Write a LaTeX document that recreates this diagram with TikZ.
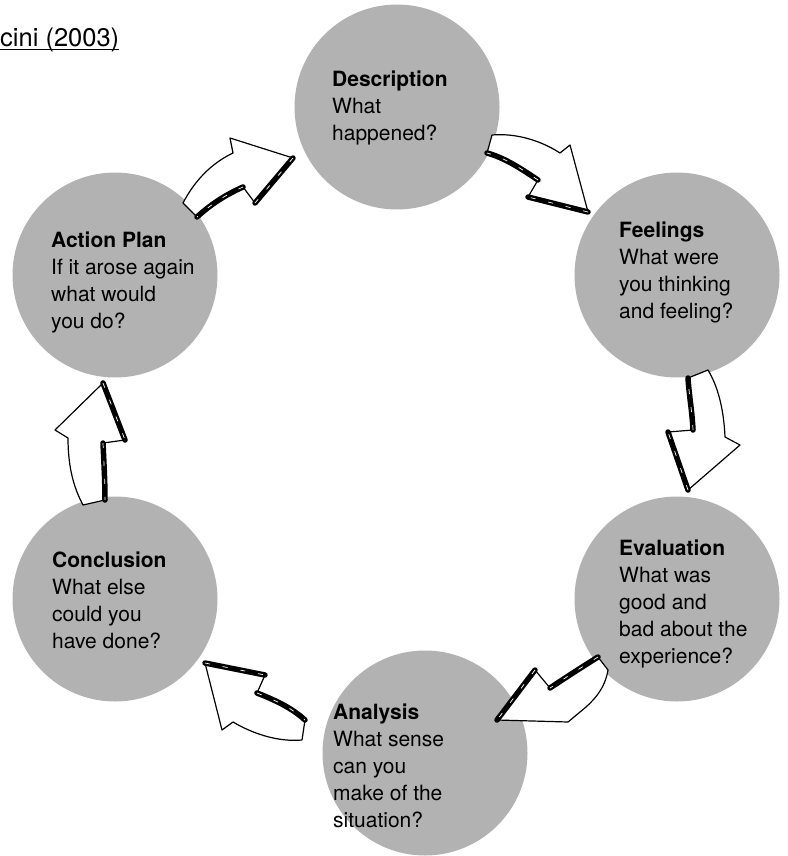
\documentclass[tikz,border=0pt]{standalone}
\usepackage{fontspec}
\setmainfont{TeX Gyre Heros}
\usetikzlibrary{positioning,calc}
\tikzset{stage/.style={circle, fill=black!30, minimum size=205pt, inner sep=0pt}}
\tikzset{lbl/.style={anchor=north west, align=left, inner sep=0pt, font=\fontsize{21}{27}\selectfont}}
\tikzset{blk/.style={draw, fill=white, line width=1.2pt, line join=round}}
\tikzset{inkedge/.style={line width=5.5pt, line cap=round, line join=round}}
\tikzset{streak/.style={white, line width=0.7pt, dash pattern=on 5pt off 13pt}}
\newcommand{\inkline}[1]{\draw[inkedge] #1; \draw[streak] #1;}

\begin{document}
\begin{tikzpicture}[x=1pt,y=-1pt]
	\useasboundingbox (0,0) rectangle (787,856);

	\node[stage] (desc) at (397,107) {};
	\node[stage] (feel) at (677,275) {};
	\node[stage] (eval) at (677,599) {};
	\node[stage] (anal) at (425,753) {};
	\node[stage] (conc) at (115,599) {};
	\node[stage] (act) at (115,275) {};

	% source
	\node[anchor=base west, inner sep=0pt, font=\fontsize{25.5}{29}\selectfont] (src) at (0,47) {cini (2003)};
	\draw[line width=1.3pt] ($(src.base west)+(0,2.8)$) -- ($(src.base east)+(0,2.8)$);

	% act -> desc
	\draw[blk] (183,203) .. controls (195,180) and (212,163) .. (233,153) -- (230,138) -- (293,158) -- (255,203) -- (243,187) .. controls (225,195) and (210,205) .. (197,217) -- cycle;
	\inkline{(293,158) -- (255,203)}
	\inkline{(243,187) .. controls (225,195) and (210,205) .. (197,217)}

	% desc -> feel
	\draw[blk] (492,135) .. controls (515,133) and (540,140) .. (560,153) -- (570,145) -- (588,212) -- (528,197) -- (538,180) .. controls (520,168) and (505,158) .. (487,153) -- cycle;
	\inkline{(588,212) -- (528,197)}
	\inkline{(538,180) .. controls (520,168) and (505,158) .. (487,153)}

	% feel -> eval
	\draw[blk] (708,370) .. controls (720,390) and (724,415) .. (725,437) -- (740,445) -- (688,490) -- (668,432) -- (693,430) .. controls (692,410) and (689,395) .. (688,378) -- cycle;
	\inkline{(688,490) -- (668,432)}
	\inkline{(693,430) .. controls (692,410) and (689,395) .. (688,378)}

	% eval -> anal
	\draw[blk] (598,657) .. controls (582,667) and (565,678) .. (550,688) -- (535,670) -- (497,720) -- (568,722) -- (580,712) .. controls (595,700) and (605,688) .. (608,670) -- cycle;
	\inkline{(598,657) .. controls (582,667) and (565,678) .. (550,688)}
	\inkline{(535,670) -- (497,720)}

	% anal -> conc
	\draw[blk] (205,663) -- (265,675) -- (257,693) .. controls (275,700) and (292,708) .. (305,720) -- (302,740) .. controls (280,742) and (255,735) .. (233,722) -- (222,730) -- cycle;
	\inkline{(205,663) -- (265,675)}
	\inkline{(257,693) .. controls (275,700) and (292,708) .. (305,720)}

	% conc -> act
	\draw[blk] (103,383) -- (125,440) -- (103,443) .. controls (104,465) and (105,482) .. (105,500) -- (83,505) .. controls (75,490) and (68,470) .. (68,438) -- (55,430) -- cycle;
	\inkline{(103,383) -- (125,440)}
	\inkline{(103,443) .. controls (104,465) and (105,482) .. (105,500)}

	\node[lbl] (descT) at (332,71) {\textbf{Description}\\What\\happened?};
	\node[lbl] (feelT) at (619,222) {\textbf{Feelings}\\What were\\you thinking\\and feeling?};
	\node[lbl] (evalT) at (619,540) {\textbf{Evaluation}\\What was\\good and\\bad about the\\experience?};
	\node[lbl] (analT) at (333,704) {\textbf{Analysis}\\What sense\\can you\\make of the\\situation?};
	\node[lbl] (concT) at (52,552) {\textbf{Conclusion}\\What else\\could you\\have done?};
	\node[lbl] (actT) at (51,232) {\textbf{Action Plan}\\If it arose again\\what would\\you do?};
\end{tikzpicture}
\end{document}
